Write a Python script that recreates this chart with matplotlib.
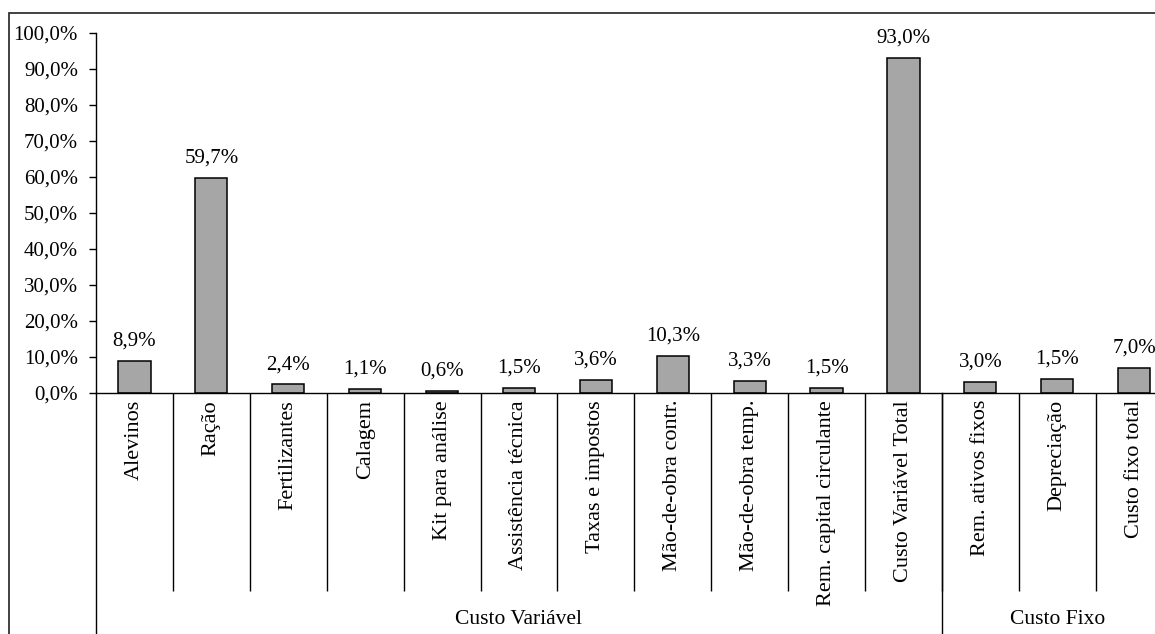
import matplotlib.pyplot as plt
from matplotlib.patches import Rectangle
from matplotlib.ticker import FuncFormatter, FixedLocator

CATEGORIES = [
    'Alevinos', 'Ração', 'Fertilizantes', 'Calagem', 'Kit para análise',
    'Assistência técnica', 'Taxas e impostos', 'Mão-de-obra contr.',
    'Mão-de-obra temp.', 'Rem. capital circulante', 'Custo Variável Total',
    'Rem. ativos fixos', 'Depreciação', 'Custo fixo total',
]
BAR_VALUES = [8.9, 59.7, 2.4, 1.1, 0.6, 1.5, 3.6, 10.3, 3.3, 1.5, 93.0, 3.0, 3.8, 7.0]
LABEL_VALUES = [8.9, 59.7, 2.4, 1.1, 0.6, 1.5, 3.6, 10.3, 3.3, 1.5, 93.0, 3.0, 1.5, 7.0]
GROUPS = ['Custo Variável', 'Custo Fixo']
GROUP_SIZES = [11, 3]

W, H = 1155, 634
plt.rcParams['font.family'] = ['Liberation Serif', 'DejaVu Serif']
plt.rcParams['font.size'] = 15


def pct(v):
    return f'{v:.1f}%'.replace('.', ',')


def main():
    fig = plt.figure(figsize=(W / 100, H / 100), dpi=100)
    # plot area in pixels: y axis at x=96, 0% at y=393, 100% at y=33, 77px per category
    n = len(CATEGORIES)
    cat_w = 76.9
    ax = fig.add_axes([96 / W, (H - 393) / H, n * cat_w / W, 360 / H])

    # outer chart frame (right and bottom edges fall outside the picture)
    fig.patches.append(Rectangle((9 / W, -0.1), 1.2, (H - 13) / H + 0.1,
                                 transform=fig.transFigure, fill=False,
                                 edgecolor='#333333', linewidth=1.3))

    x = list(range(n))
    ax.bar(x, BAR_VALUES, width=0.42, color='#a6a6a6', edgecolor='black', linewidth=1.1)
    for xi, h, lab in zip(x, BAR_VALUES, LABEL_VALUES):
        ax.annotate(pct(lab), (xi, h), xytext=(0, 11), textcoords='offset points',
                    ha='center', va='baseline')

    ax.set_xlim(-0.5, n - 0.5)
    ax.set_ylim(0, 100)
    ax.set_yticks(range(0, 101, 10))
    ax.yaxis.set_major_formatter(FuncFormatter(lambda v, _: pct(v)))
    ax.tick_params(axis='y', direction='out', length=5, width=1, pad=8)

    ax.set_xticks(x)
    ax.set_xticklabels(CATEGORIES, rotation=90, fontsize=16)
    ax.tick_params(axis='x', which='major', length=0, pad=5)
    # category separators
    sep = [i + 0.5 for i in range(n - 1)]
    ax.xaxis.set_minor_locator(FixedLocator(sep))
    ax.tick_params(axis='x', which='minor', direction='out', length=198 * 0.72, width=1)

    for s in ('top', 'right'):
        ax.spines[s].set_visible(False)
    ax.spines['left'].set_linewidth(1)
    ax.spines['bottom'].set_linewidth(1)

    # group level separators and labels
    tr = ax.get_xaxis_transform()
    bottom = -(H - 393) / 360
    start = -0.5
    for g, size in zip(GROUPS, GROUP_SIZES):
        ax.plot([start, start], [0, bottom], color='black', lw=1,
                transform=tr, clip_on=False)
        ax.text(start + size / 2, -(620 - 393) / 360, g, transform=tr,
                ha='center', va='center', fontsize=15.5)
        start += size

    fig.savefig('out.png', dpi=100)


main()
